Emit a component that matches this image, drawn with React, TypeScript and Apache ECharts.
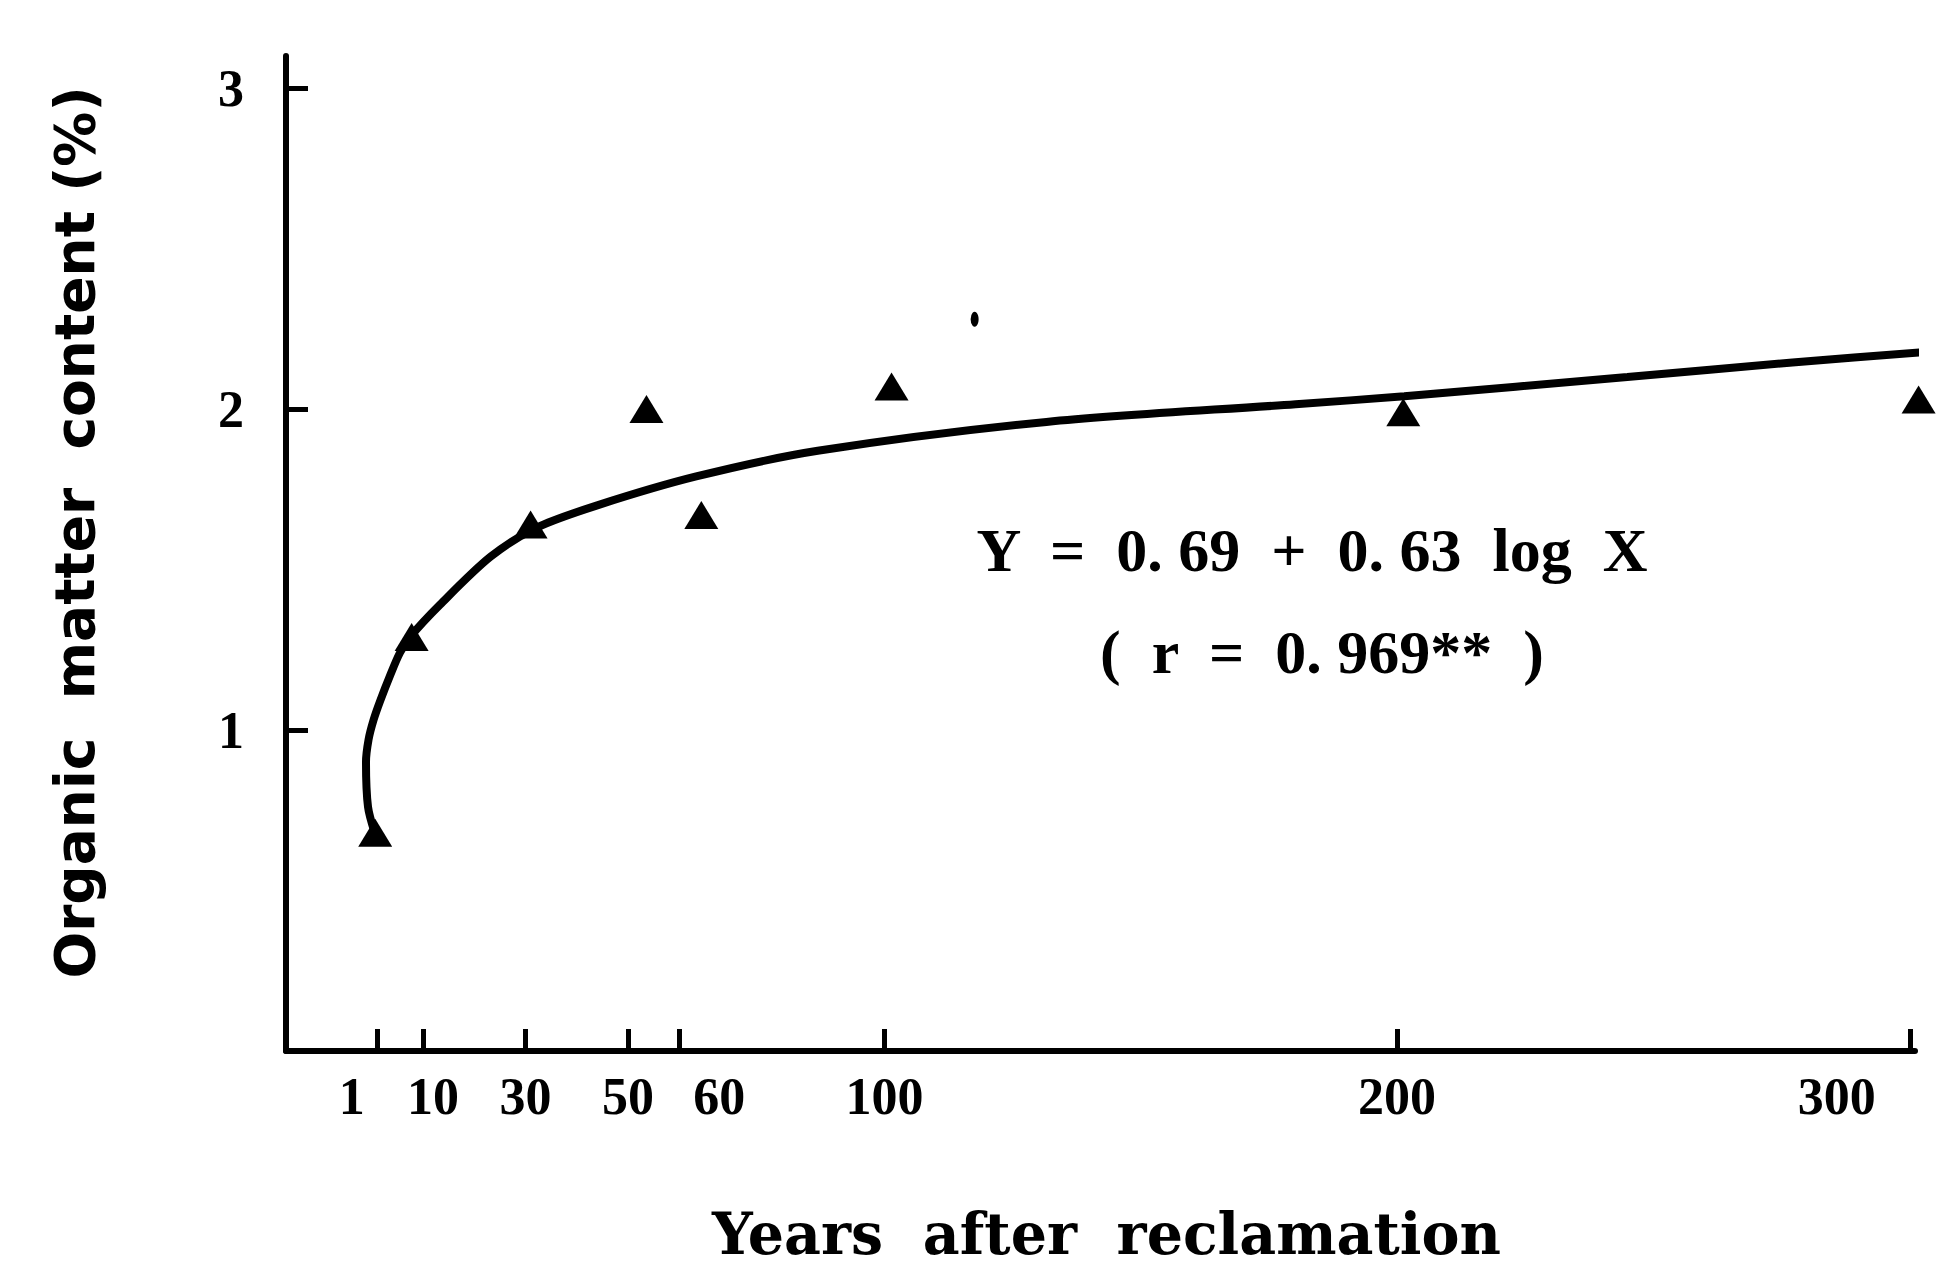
import React, { useEffect, useRef } from "react";
import * as echarts from "echarts";

// Axis ticks (years after reclamation, organic matter %)
const xTickValues = [1, 10, 30, 50, 60, 100, 200, 300];
const yTickValues = [1, 2, 3];

// Measured samples: years after reclamation vs organic matter content (%)
const sampleYears = [0.7, 7.8, 31, 53.6, 64.3, 101.4, 201.2, 301.7];
const sampleOM = [0.68, 1.29, 1.64, 2.0, 1.67, 2.07, 1.99, 2.03];

// Fitted curve, traced along its length
const curveYears = [0.6, -0.7, -1.1, -0.6, 0.35, 1.65, 3.6, 5.5, 7.5, 13.3, 23.2, 32.1, 44, 63.3, 87, 131.6, 180.2, 201.4, 244.9, 277.1, 304.8];
const curveOM = [0.68, 0.76, 0.9, 0.97, 1.03, 1.09, 1.17, 1.24, 1.29, 1.39, 1.54, 1.63, 1.7, 1.79, 1.87, 1.96, 2.015, 2.04, 2.1, 2.145, 2.18];

// Stray ink dot above the curve
const speckYears = [117.6];
const speckOM = [2.28];

const equationLine1 = "Y  =  0. 69  +  0. 63  log  X";
const equationLine2 = "(  r  =  0. 969**  )";

// horizontal nudges of some tick labels (px, positive = right)
const labelShift: Record<string, number> = { "1": -25, "10": 10, "60": 40, "300": -73 };

export default function App() {
  const ref = useRef<HTMLDivElement>(null);

  useEffect(() => {
    if (!ref.current) return;
    const chart = echarts.init(ref.current, null, { renderer: "svg" });

    const rich: Record<string, any> = {};
    xTickValues.forEach((v) => {
      const s = labelShift[String(v)] || 0;
      rich["t" + v] = {
        fontFamily: "Liberation Serif",
        fontWeight: "bold",
        fontSize: 52,
        color: "#000",
        padding: s >= 0 ? [0, 0, 0, 2 * s] : [0, -2 * s, 0, 0],
      };
    });

    chart.setOption({
      animation: false,
      backgroundColor: "#fff",
      grid: { left: 286, right: 27, top: 56, bottom: 214, containLabel: false },
      xAxis: {
        type: "value",
        min: -16.7,
        max: 301,
        axisLine: { show: true, onZero: false, lineStyle: { color: "#000", width: 6 } },
        axisTick: {
          show: true,
          inside: true,
          length: 22,
          customValues: xTickValues,
          lineStyle: { color: "#000", width: 5 },
        },
        axisLabel: {
          customValues: xTickValues,
          margin: 19,
          formatter: (v: number) => `{t${v}|${v}}`,
          rich,
        },
        splitLine: { show: false },
        name: "Years  after  reclamation",
        nameLocation: "middle",
        nameGap: 154,
        nameTextStyle: {
          fontFamily: "DejaVu Serif",
          fontWeight: "bold",
          fontSize: 57,
          color: "#000",
          padding: [0, 0, 0, 12],
        },
      },
      yAxis: {
        type: "value",
        min: 0,
        max: 3.1,
        axisLine: { show: true, onZero: false, lineStyle: { color: "#000", width: 6 } },
        axisTick: {
          show: true,
          inside: true,
          length: 22,
          customValues: yTickValues,
          lineStyle: { color: "#000", width: 5 },
        },
        axisLabel: {
          customValues: yTickValues,
          margin: 42,
          fontFamily: "Liberation Serif",
          fontWeight: "bold",
          fontSize: 52,
          color: "#000",
        },
        splitLine: { show: false },
        name: "Organic  matter  content (%)",
        nameLocation: "middle",
        nameRotate: 90,
        nameGap: 184,
        nameTextStyle: {
          fontFamily: "DejaVu Sans",
          fontWeight: "bold",
          fontSize: 55,
          color: "#000",
          padding: [0, 0, 0, 42],
        },
      },
      graphic: [
        {
          type: "text",
          x: 1312,
          y: 550,
          style: {
            text: equationLine1,
            align: "center",
            verticalAlign: "middle",
            textAlign: "center",
            textVerticalAlign: "middle",
            fontFamily: "Liberation Serif",
            fontWeight: "bold",
            fontSize: 62,
            fill: "#000",
          },
        },
        {
          type: "text",
          x: 1322,
          y: 652,
          style: {
            text: equationLine2,
            align: "center",
            verticalAlign: "middle",
            textAlign: "center",
            textVerticalAlign: "middle",
            fontFamily: "Liberation Serif",
            fontWeight: "bold",
            fontSize: 62,
            fill: "#000",
          },
        },
      ],
      series: [
        {
          type: "line",
          data: curveYears.map((x, i) => [x, curveOM[i]]),
          showSymbol: false,
          smooth: 0.3,
          clip: false,
          lineStyle: { color: "#000", width: 8 },
          z: 3,
        },
        {
          type: "scatter",
          data: sampleYears.map((x, i) => [x, sampleOM[i]]),
          symbol: "triangle",
          symbolSize: [34, 28],
          clip: false,
          itemStyle: { color: "#000", opacity: 1 },
          z: 4,
        },
        {
          type: "scatter",
          data: speckYears.map((x, i) => [x, speckOM[i]]),
          symbol: "circle",
          symbolSize: [8, 15],
          clip: false,
          itemStyle: { color: "#000", opacity: 1 },
          z: 4,
        },
      ],
    });

    return () => chart.dispose();
  }, []);

  return (
    <div
      ref={ref}
      style={{ position: "absolute", left: 0, top: 0, width: 1942, height: 1267 }}
    />
  );
}
